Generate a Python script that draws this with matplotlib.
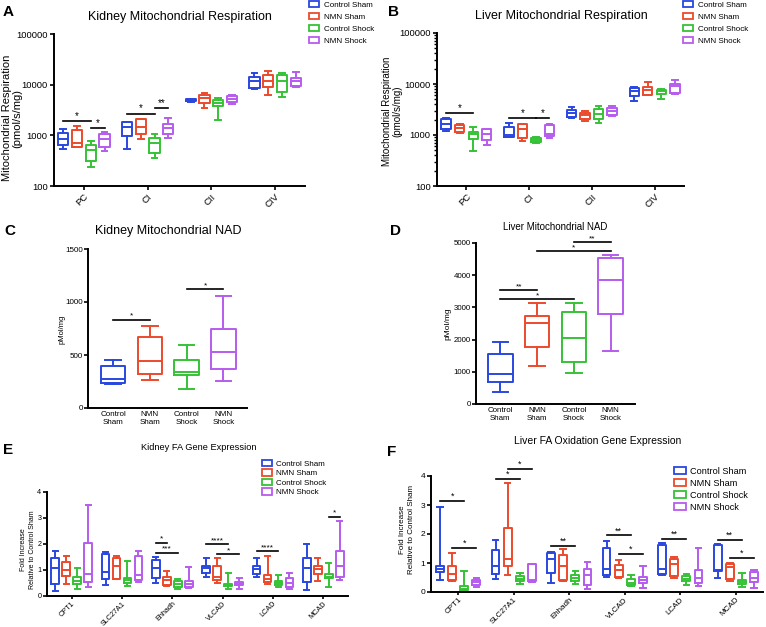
import numpy as np
import matplotlib
matplotlib.use('Agg')
import matplotlib.pyplot as plt
from matplotlib.patches import Patch

plt.rcParams['font.family'] = ['Liberation Sans', 'DejaVu Sans']

W, H = 766, 627

groups = ['Control Sham', 'NMN Sham', 'Control Shock', 'NMN Shock']
colors = ['#2a47e0', '#ec4a2c', '#36c236', '#b75cee']

resp_cats = ['PC', 'CI', 'CII', 'CIV']
gene_cats = ['CPT1', 'SLC27A1', 'Ehhadh', 'VLCAD', 'LCAD', 'MCAD']
nad_cats = ['Control\nSham', 'NMN\nSham', 'Control\nShock', 'NMN\nShock']

# each box: (min, q1, median, q3, max), one list per group, one entry per category
kid_resp = {
    'Control Sham': [(535, 633, 833, 1096, 1336), (543, 985, 1487, 1812, 1868),
                     (4650, 4750, 4950, 5100, 5200), (8200, 8600, 11640, 13960, 17260)],
    'NMN Sham': [(580, 590, 694, 1257, 1533), (858, 1047, 1487, 2080, 2143),
                 (3440, 4380, 5430, 6136, 6826), (6250, 9000, 11640, 15290, 18900)],
    'Control Shock': [(239, 309, 511, 643, 784), (360, 452, 704, 885, 1063),
                      (2050, 3770, 4400, 4960, 5430), (5800, 7050, 12000, 15290, 17260)],
    'NMN Shock': [(496, 586, 833, 1079, 1147), (899, 1047, 1399, 1654, 2176),
                  (4190, 4450, 5260, 5860, 6136), (9130, 9560, 11800, 13340, 17500)],
}
liv_resp = {
    'Control Sham': [(1200, 1295, 1676, 2105, 2203), (900, 930, 1000, 1450, 1750),
                     (2170, 2236, 2645, 3126, 3477), (4570, 5820, 7210, 8400, 8790)],
    'NMN Sham': [(1079, 1164, 1397, 1554, 1650), (761, 859, 1295, 1626, 1676),
                 (1893, 2042, 2413, 2725, 2894), (6000, 6200, 7670, 8920, 11000)],
    'Control Shock': [(482, 846, 1031, 1164, 1462), (705, 716, 809, 885, 927),
                      (1701, 2073, 2565, 3174, 3637), (5160, 6380, 7210, 7550, 7910)],
    'NMN Shock': [(644, 809, 1031, 1295, 1335), (872, 956, 1031, 1578, 1676),
                  (2308, 2490, 2894, 3320, 3637), (6380, 6570, 9190, 10100, 11940)],
}
kid_nad = {
    'Control Sham': [(222, 235, 270, 396, 456)],
    'NMN Sham': [(260, 320, 446, 673, 778)],
    'Control Shock': [(178, 314, 342, 450, 595)],
    'NMN Shock': [(257, 368, 525, 749, 1058)],
}
liv_nad = {
    'Control Sham': [(374, 675, 945, 1548, 1922)],
    'NMN Sham': [(1184, 1756, 2525, 2732, 3138)],
    'Control Shock': [(956, 1319, 2036, 2868, 3138)],
    'NMN Shock': [(1642, 2795, 3855, 4530, 4634)],
}
kid_gene = {
    'Control Sham': [(0.19, 0.48, 1.08, 1.45, 1.74), (0.41, 0.67, 0.93, 1.61, 1.68),
                     (0.50, 0.70, 1.07, 1.39, 1.51), (0.74, 0.89, 1.07, 1.16, 1.45),
                     (0.74, 0.84, 1.03, 1.16, 1.45), (0.25, 0.52, 1.06, 1.45, 2.00)],
    'NMN Sham': [(0.46, 0.76, 1.01, 1.30, 1.52), (0.65, 0.67, 1.16, 1.48, 1.52),
                 (0.39, 0.41, 0.62, 0.72, 0.98), (0.50, 0.63, 0.74, 1.17, 1.45),
                 (0.46, 0.55, 0.67, 0.79, 1.52), (0.58, 0.86, 1.03, 1.15, 1.45)],
    'Control Shock': [(0.26, 0.45, 0.59, 0.72, 1.06), (0.39, 0.49, 0.62, 0.71, 1.34),
                      (0.27, 0.36, 0.48, 0.58, 0.66), (0.28, 0.38, 0.41, 0.45, 0.89),
                      (0.36, 0.43, 0.49, 0.57, 0.79), (0.35, 0.68, 0.75, 0.83, 1.26)],
    'NMN Shock': [(0.36, 0.53, 0.84, 2.05, 3.51), (0.54, 0.62, 0.81, 1.52, 1.73),
                  (0.32, 0.36, 0.46, 0.58, 1.12), (0.28, 0.43, 0.46, 0.52, 0.68),
                  (0.27, 0.36, 0.49, 0.70, 0.89), (0.62, 0.75, 1.15, 1.75, 2.89)],
}
liv_gene = {
    'Control Sham': [(0.41, 0.68, 0.78, 0.88, 2.92), (0.45, 0.61, 0.88, 1.45, 1.80),
                     (0.32, 0.65, 1.15, 1.36, 1.39), (0.52, 0.60, 0.80, 1.52, 1.76),
                     (0.59, 0.61, 0.81, 1.62, 1.68), (0.50, 0.71, 0.76, 1.63, 1.66)],
    'NMN Sham': [(0.38, 0.41, 0.61, 0.90, 1.33), (0.58, 0.88, 1.14, 2.20, 3.77),
                 (0.38, 0.41, 0.90, 1.26, 1.47), (0.48, 0.52, 0.75, 0.93, 1.10),
                 (0.49, 0.54, 0.98, 1.14, 1.22), (0.39, 0.44, 0.87, 0.95, 1.00)],
    'Control Shock': [(0.03, 0.06, 0.10, 0.20, 0.71), (0.27, 0.37, 0.46, 0.54, 0.64),
                      (0.29, 0.37, 0.48, 0.57, 0.72), (0.22, 0.25, 0.32, 0.45, 0.60),
                      (0.24, 0.37, 0.45, 0.54, 0.61), (0.16, 0.28, 0.35, 0.43, 0.67)],
    'NMN Shock': [(0.17, 0.25, 0.35, 0.43, 0.50), (0.35, 0.38, 0.40, 0.95, 0.98),
                  (0.09, 0.25, 0.58, 0.78, 1.04), (0.15, 0.30, 0.43, 0.52, 0.88),
                  (0.21, 0.30, 0.50, 0.75, 1.51), (0.15, 0.35, 0.48, 0.68, 0.75)],
}

# significance bars: (category, from group, to group, height, label)
kid_resp_sig = [(0, 0, 2, 1955, '*'), (0, 2, 3, 1420, '*'),
                (1, 0, 2, 2690, '*'), (1, 2, 3, 3435, '**')]
liv_resp_sig = [(0, 0, 2, 2645, '*'), (1, 0, 2, 2107, '*'), (1, 2, 3, 2107, '*')]
kid_nad_sig = [(0, 0, 1, 834, '*'), (0, 2, 3, 1118, '*')]
liv_nad_sig = [(0, 0, 1, 3543, '**'), (0, 0, 2, 3262, '*'),
               (0, 1, 3, 4738, '*'), (0, 2, 3, 5018, '**')]
kid_gene_sig = [(2, 0, 1, 2.05, '*'), (2, 0, 2, 1.66, '***'),
                (3, 0, 2, 1.99, '****'), (3, 1, 3, 1.61, '*'),
                (4, 0, 2, 1.73, '****'), (5, 2, 3, 3.05, '*')]
liv_gene_sig = [(0, 0, 2, 3.13, '*'), (0, 1, 3, 1.52, '*'),
                (1, 0, 2, 3.90, '*'), (1, 1, 3, 4.24, '*'),
                (2, 0, 2, 1.58, '**'), (3, 0, 2, 1.95, '**'), (3, 1, 3, 1.32, '*'),
                (4, 0, 2, 1.84, '**'), (5, 0, 2, 1.80, '**'), (5, 1, 3, 1.18, '*')]


def px_axes(fig, l, t, r, b):
    return fig.add_axes([l / W, 1 - b / H, (r - l) / W, (b - t) / H])


def draw_boxes(ax, data, centers, spacing, width, capw):
    for gi, g in enumerate(groups):
        c = colors[gi]
        stats = [dict(whislo=s[0], q1=s[1], med=s[2], q3=s[3], whishi=s[4], fliers=[])
                 for s in data[g]]
        pos = np.asarray(centers) + (gi - 1.5) * spacing
        ax.bxp(stats, positions=pos, widths=width, capwidths=capw, showfliers=False,
               manage_ticks=False,
               boxprops=dict(color=c, lw=1.4), medianprops=dict(color=c, lw=1.4),
               whiskerprops=dict(color=c, lw=1.4), capprops=dict(color=c, lw=1.4))


def draw_sig(ax, sigs, centers, spacing, fs=7):
    for ci, g0, g1, y, lab in sigs:
        x0 = centers[ci] + (g0 - 1.5) * spacing
        x1 = centers[ci] + (g1 - 1.5) * spacing
        ax.plot([x0, x1], [y, y], color='k', lw=1.2, clip_on=False)
        ax.text((x0 + x1) / 2, y, lab, ha='center', va='bottom', fontsize=fs, clip_on=False)


def style(ax, fs, pad=1.5):
    for s in ['top', 'right']:
        ax.spines[s].set_visible(False)
    for s in ['left', 'bottom']:
        ax.spines[s].set_linewidth(1.4)
    ax.tick_params(axis='both', labelsize=fs, width=1.2, length=3, pad=pad)


def add_legend(fig, x, y, fs, sp):
    handles = [Patch(facecolor='none', edgecolor=c, lw=1.3, label=g)
               for g, c in zip(groups, colors)]
    fig.legend(handles=handles, loc='upper left', bbox_to_anchor=(x / W, 1 - y / H),
               frameon=False, fontsize=fs, handlelength=1.3, handleheight=0.8,
               labelspacing=sp, handletextpad=0.5, borderpad=0, borderaxespad=0)


def ftext(fig, x, y, s, **kw):
    fig.text(x / W, 1 - y / H, s, **kw)


fig = plt.figure(figsize=(W / 100, H / 100), dpi=100)

# A: kidney respiration
axA = px_axes(fig, 54, 34, 305, 186)
xr = np.arange(len(resp_cats))
draw_boxes(axA, kid_resp, xr, 0.216, 0.16, 0.09)
axA.set_yscale('log')
axA.set_ylim(100, 100000)
axA.set_yticks([100, 1000, 10000, 100000])
axA.set_yticklabels(['100', '1000', '10000', '100000'])
axA.yaxis.set_minor_locator(matplotlib.ticker.NullLocator())
axA.set_xlim(-0.47, 3.47)
axA.set_xticks(xr)
axA.set_xticklabels(resp_cats, rotation=45, ha='right', rotation_mode='anchor')
style(axA, 6.8)
draw_sig(axA, kid_resp_sig, xr, 0.216)

# B: liver respiration
axB = px_axes(fig, 437, 33, 684, 186)
draw_boxes(axB, liv_resp, xr, 0.216, 0.15, 0.09)
axB.set_yscale('log')
axB.set_ylim(100, 100000)
axB.set_yticks([100, 1000, 10000, 100000])
axB.set_yticklabels(['100', '1000', '10000', '100000'])
axB.yaxis.set_minor_formatter(matplotlib.ticker.NullFormatter())
axB.set_xlim(-0.47, 3.47)
axB.set_xticks(xr)
axB.set_xticklabels(resp_cats, rotation=45, ha='right', rotation_mode='anchor')
style(axB, 6.8)
axB.tick_params(axis='y', which='minor', length=2, width=1)
draw_sig(axB, liv_resp_sig, xr, 0.216)

# C: kidney NAD
axC = px_axes(fig, 88, 249, 247, 408)
draw_boxes(axC, kid_nad, [1.5], 1.0, 0.67, 0.42)
axC.set_ylim(0, 1500)
axC.set_yticks([0, 500, 1000, 1500])
axC.set_xlim(-0.68, 3.64)
axC.set_xticks(range(4))
axC.set_xticklabels(nad_cats)
style(axC, 5.8, pad=0.8)
axC.tick_params(axis='x', length=0, pad=2)
draw_sig(axC, kid_nad_sig, [1.5], 1.0, fs=6)

# D: liver NAD
axD = px_axes(fig, 476, 243, 635, 404)
draw_boxes(axD, liv_nad, [1.5], 1.0, 0.67, 0.42)
axD.set_ylim(0, 5000)
axD.set_yticks([0, 1000, 2000, 3000, 4000, 5000])
axD.set_xlim(-0.66, 3.66)
axD.set_xticks(range(4))
axD.set_xticklabels(nad_cats)
style(axD, 5.7, pad=0.8)
axD.tick_params(axis='x', length=0, pad=2)
draw_sig(axD, liv_nad_sig, [1.5], 1.0, fs=6)

# E: kidney FA genes
axE = px_axes(fig, 47, 492, 348, 596)
xg = np.arange(len(gene_cats))
draw_boxes(axE, kid_gene, xg, 0.218, 0.15, 0.1)
axE.set_ylim(0, 4)
axE.set_yticks([0, 1, 2, 3, 4])
axE.set_xlim(-0.49, 5.49)
axE.set_xticks(xg)
axE.set_xticklabels(gene_cats, rotation=45, ha='right', rotation_mode='anchor')
style(axE, 5.2, pad=1)
axE.tick_params(axis='x', labelsize=5.2, length=2.5, pad=0.5)
draw_sig(axE, kid_gene_sig, xg, 0.218, fs=6)

# F: liver FA oxidation genes
axF = px_axes(fig, 431, 476, 763, 592)
draw_boxes(axF, liv_gene, xg, 0.218, 0.14, 0.1)
axF.set_ylim(0, 4)
axF.set_yticks([0, 1, 2, 3, 4])
axF.set_xlim(-0.49, 5.49)
axF.set_xticks(xg)
axF.set_xticklabels(gene_cats, rotation=45, ha='right', rotation_mode='anchor')
style(axF, 6, pad=1)
axF.tick_params(axis='x', labelsize=5.8, length=2.5, pad=0.5)
draw_sig(axF, liv_gene_sig, xg, 0.218, fs=6.5)

# titles
ftext(fig, 180, 17, 'Kidney Mitochondrial Respiration', fontsize=9, ha='center', va='center')
ftext(fig, 561, 16, 'Liver Mitochondrial Respiration', fontsize=9, ha='center', va='center')
ftext(fig, 168, 231, 'Kidney Mitochondrial NAD', fontsize=9, ha='center', va='center')
ftext(fig, 555, 227, 'Liver Mitochondrial NAD', fontsize=7, ha='center', va='center')
ftext(fig, 199, 448, 'Kidney FA Gene Expression', fontsize=6.7, ha='center', va='center')
ftext(fig, 598, 441, 'Liver FA Oxidation Gene Expression', fontsize=7.5, ha='center', va='center')

# y labels
ftext(fig, 12, 118, 'Mitochondrial Respiration\n(pmol/s/mg)', fontsize=8, rotation=90,
      ha='center', va='center', linespacing=1.1)
ftext(fig, 392, 111, 'Mitochondrial Respiration\n(pmol/s/mg)', fontsize=7, rotation=90,
      ha='center', va='center', linespacing=1.1)
ftext(fig, 62, 329, 'pMol/mg', fontsize=5.5, rotation=90, ha='center', va='center')
ftext(fig, 448, 324, 'pMol/mg', fontsize=6, rotation=90, ha='center', va='center')
ftext(fig, 28, 550, 'Fold Increase\nRelative to Control Sham', fontsize=5, rotation=90,
      ha='center', va='center', linespacing=1.35)
ftext(fig, 407, 530, 'Fold Increase\nRelative to Control Sham', fontsize=5.8, rotation=90,
      ha='center', va='center', linespacing=1.3)

# panel letters
for lab, x, y in [('A', 3, 12), ('B', 388, 12), ('C', 4, 231), ('D', 390, 231),
                  ('E', 3, 450), ('F', 387, 452)]:
    ftext(fig, x, y, lab, fontsize=11, fontweight='bold', ha='left', va='center')

# legends
add_legend(fig, 309, 1, 5.8, 0.5)
add_legend(fig, 683, 1, 5.8, 0.5)
add_legend(fig, 262, 460, 5.8, 0.2)
add_legend(fig, 674, 467, 6.6, 0.32)

fig.savefig('out.png', dpi=100)
